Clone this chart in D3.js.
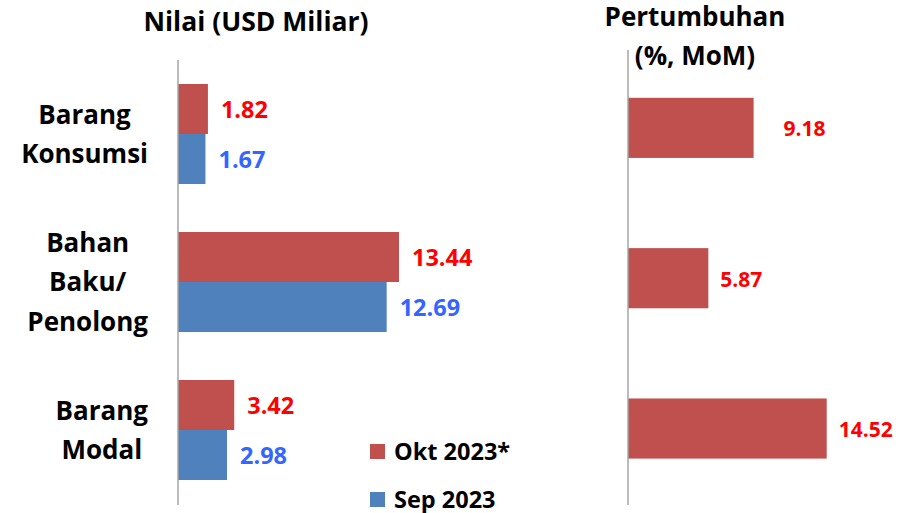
<!DOCTYPE html>
<html>
<head>
<meta charset="utf-8">
<script src="https://cdn.jsdelivr.net/npm/d3@7"></script>
<style>
  body { margin: 0; background: #fff; }
  svg text { font-family: "Open Sans", Lato, sans-serif; font-weight: bold; }
</style>
</head>
<body>
<svg width="898" height="513"></svg>
<script>
// categories, each one split in lines the way the label wraps
var categories = ["Barang Konsumsi", "Bahan Baku/ Penolong", "Barang Modal"];
var categoryLines = [["Barang", "Konsumsi"], ["Bahan", "Baku/", "Penolong"], ["Barang", "Modal"]];
var seriesNames = ["Okt 2023*", "Sep 2023"];
var okt2023 = [1.82, 13.44, 3.42];
var sep2023 = [1.67, 12.69, 2.98];
var growthMoM = [9.18, 5.87, 14.52];

var barColors = ["#C0504D", "#4F81BD"];
var labelColors = ["#FF0000", "#3366FF"];
var growthLabelDx = [30, 12, 12]; // excel put the first label a bit further out

var svg = d3.select('svg');

// ---- left panel: value
var left = svg.append('g');
var x1 = d3.scaleLinear().domain([0, 13.44]).range([178, 399]);
var y1 = d3.scaleBand().domain(categories).range([60, 504]).paddingInner(48 / 148).paddingOuter(24 / 148);
var ySub = d3.scaleBand().domain(seriesNames).range([0, y1.bandwidth()]);

var rows = categories.map((c, i) => ({cat: c, vals: [okt2023[i], sep2023[i]]}));

var groups = left.selectAll('.grp')
    .data(rows)
    .enter()
    .append('g')
    .attr('transform', d => 'translate(0,' + y1(d.cat) + ')');

groups.selectAll('rect')
    .data(d => d.vals.map((v, j) => ({v: v, s: seriesNames[j], j: j})))
    .enter()
    .append('rect')
        .attr('x', x1(0))
        .attr('y', d => ySub(d.s))
        .attr('width', d => x1(d.v) - x1(0))
        .attr('height', ySub.bandwidth())
        .attr('fill', d => barColors[d.j]);

groups.selectAll('text')
    .data(d => d.vals.map((v, j) => ({v: v, s: seriesNames[j], j: j})))
    .enter()
    .append('text')
        .attr('x', d => x1(d.v) + 13)
        .attr('y', d => ySub(d.s) + ySub.bandwidth() / 2 + 1)
        .attr('dy', '0.36em')
        .attr('font-size', 23.5)
        .attr('fill', d => labelColors[d.j])
        .text(d => d.v.toFixed(2));

left.append('line')
    .attr('x1', x1(0)).attr('x2', x1(0))
    .attr('y1', 60).attr('y2', 505)
    .attr('stroke', '#A6A6A6').attr('stroke-width', 1.5);

// category labels: centred lines, block right edge at 148
categoryLines.forEach(function(lines, i){
    var cy = y1(categories[i]) + y1.bandwidth() / 2;
    var lh = 39.5;
    var t = left.append('text')
        .attr('font-size', 26)
        .attr('fill', '#000')
        .attr('text-anchor', 'middle');
    lines.forEach(function(l, k){
        t.append('tspan')
            .attr('y', cy + (k - (lines.length - 1) / 2) * lh)
            .attr('dy', '0.36em')
            .text(l);
    });
    var maxW = d3.max(t.selectAll('tspan').nodes(), n => n.getComputedTextLength());
    t.selectAll('tspan').attr('x', 148 - maxW / 2);
});

left.append('text')
    .attr('x', 256).attr('y', 21).attr('dy', '0.36em')
    .attr('text-anchor', 'middle')
    .attr('font-size', 26.5)
    .text('Nilai (USD Miliar)');

// legend
var legend = left.selectAll('.leg')
    .data(seriesNames)
    .enter()
    .append('g')
    .attr('transform', (d, i) => 'translate(370,' + (444 + i * 48) + ')');
legend.append('rect')
    .attr('width', 15).attr('height', 15)
    .attr('fill', (d, i) => barColors[i]);
legend.append('text')
    .attr('x', 24).attr('y', 8).attr('dy', '0.36em')
    .attr('font-size', 23.5)
    .text(d => d);

// ---- right panel: growth
var right = svg.append('g');
var x2 = d3.scaleLinear().domain([0, 14.52]).range([628, 826.7]);
var y2 = d3.scaleBand().domain(categories).range([52.7, 503.7]).paddingInner(0.6).paddingOuter(0.3);

right.selectAll('rect')
    .data(growthMoM)
    .enter()
    .append('rect')
        .attr('x', x2(0))
        .attr('y', (d, i) => y2(categories[i]))
        .attr('width', d => x2(d) - x2(0))
        .attr('height', y2.bandwidth())
        .attr('fill', barColors[0]);

right.selectAll('.val')
    .data(growthMoM)
    .enter()
    .append('text')
        .attr('x', (d, i) => x2(d) + growthLabelDx[i])
        .attr('y', (d, i) => y2(categories[i]) + y2.bandwidth() / 2 + 1)
        .attr('dy', '0.36em')
        .attr('font-size', 21)
        .attr('fill', labelColors[0])
        .text(d => d.toFixed(2));

right.append('line')
    .attr('x1', x2(0)).attr('x2', x2(0))
    .attr('y1', 50).attr('y2', 505)
    .attr('stroke', '#A6A6A6').attr('stroke-width', 1.5);

right.append('text')
    .attr('text-anchor', 'middle')
    .attr('font-size', 26)
    .selectAll('tspan')
    .data(['Pertumbuhan', '(%, MoM)'])
    .enter()
    .append('tspan')
        .attr('x', 695)
        .attr('y', (d, i) => 17 + i * 39)
        .attr('dy', '0.36em')
        .text(d => d);
</script>
</body>
</html>
